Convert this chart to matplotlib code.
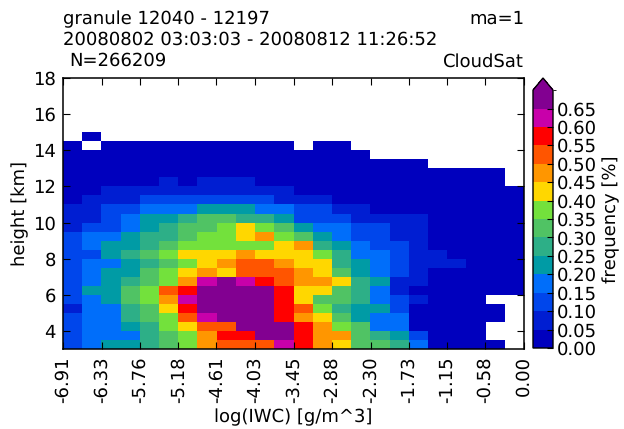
import numpy as np
import matplotlib
matplotlib.use("Agg")
import matplotlib.pyplot as plt
from matplotlib.colors import BoundaryNorm, ListedColormap

plt.rcParams["text.hinting"] = "no_hinting"
plt.rcParams["text.hinting_factor"] = 1

N = None

# x tick labels, log(IWC)
x_labels = ["-6.91", "-6.33", "-5.76", "-5.18", "-4.61", "-4.03", "-3.45",
            "-2.88", "-2.30", "-1.73", "-1.15", "-0.58", "0.00"]
y_ticks = [4, 6, 8, 10, 12, 14, 16, 18]
cbar_ticks = [0.00, 0.05, 0.10, 0.15, 0.20, 0.25, 0.30, 0.35, 0.40, 0.45, 0.50, 0.55, 0.60, 0.65]
levels = [0.00, 0.05, 0.10, 0.15, 0.20, 0.25, 0.30, 0.35, 0.40, 0.45, 0.50, 0.55, 0.60, 0.65, 0.70]
colors = ["#0000be", "#001ed2", "#0046eb", "#006efa", "#009ba5", "#2daf87",
          "#50c364", "#73e13c", "#ffd700", "#ff9600", "#ff5500", "#ff0000",
          "#c800aa", "#820091"]

# frequency in hundredths of a percent, one row per height bin, bottom row first
freq = [
    [12, 17, 22, 22, 27, 32, 37, 47, 52, 52, 52, 62, 57, 47, 42, 32, 32, 27, 17, 2, 2, 2, 2, N],
    [12, 17, 17, 17, 27, 32, 37, 47, 57, 57, 67, 67, 57, 47, 47, 32, 27, 22, 12, 2, 2, 2, N, N],
    [12, 17, 17, 22, 27, 37, 42, 52, 52, 67, 67, 67, 57, 47, 37, 32, 17, 17, 2, 2, 2, 2, N, N],
    [12, 17, 17, 27, 32, 37, 52, 62, 67, 67, 67, 57, 47, 42, 32, 22, 17, 17, 2, 2, 2, 2, 2, N],
    [7, 17, 17, 27, 32, 42, 57, 67, 67, 67, 67, 57, 52, 37, 27, 22, 22, 12, 2, 2, 2, 2, 2, N],
    [12, 17, 22, 32, 37, 47, 62, 67, 67, 67, 67, 57, 42, 32, 32, 27, 17, 12, 7, 2, 2, 2, N, N],
    [12, 22, 22, 32, 37, 52, 57, 67, 67, 67, 67, 57, 42, 42, 32, 27, 17, 7, 2, 2, 2, 2, 2, 2],
    [12, 17, 22, 27, 32, 37, 47, 62, 67, 62, 57, 52, 47, 47, 42, 27, 22, 7, 7, 2, 2, 2, 2, 2],
    [12, 17, 22, 22, 32, 37, 42, 47, 42, 52, 52, 52, 47, 42, 32, 22, 17, 12, 7, 2, 2, 2, 2, 2],
    [12, 17, 17, 22, 27, 32, 37, 42, 47, 52, 52, 47, 42, 42, 27, 22, 17, 12, 7, 7, 7, 2, 2, 2],
    [12, 12, 22, 27, 32, 37, 42, 42, 42, 47, 42, 42, 42, 37, 27, 17, 17, 12, 7, 7, 2, 2, 2, 2],
    [12, 17, 22, 22, 27, 32, 37, 37, 37, 37, 37, 42, 47, 27, 22, 17, 12, 12, 7, 2, 2, 2, 2, 2],
    [12, 17, 17, 22, 27, 27, 32, 37, 37, 42, 47, 37, 32, 22, 17, 12, 12, 7, 7, 2, 2, 2, 2, 2],
    [7, 12, 12, 17, 22, 27, 32, 32, 37, 42, 37, 32, 22, 17, 17, 12, 12, 7, 7, 2, 2, 2, 2, 2],
    [7, 7, 12, 17, 22, 22, 27, 32, 32, 27, 27, 22, 12, 12, 12, 7, 7, 7, 7, 2, 2, 2, 2, 2],
    [7, 7, 12, 12, 17, 17, 17, 22, 22, 22, 17, 17, 12, 12, 7, 7, 2, 2, 2, 2, 2, 2, 2, 2],
    [2, 7, 7, 7, 12, 12, 12, 12, 12, 12, 12, 7, 7, 7, 2, 2, 2, 2, 2, 2, 2, 2, 2, 2],
    [2, 2, 7, 7, 7, 7, 7, 7, 7, 7, 7, 7, 2, 2, 2, 2, 2, 2, 2, 2, 2, 2, 2, 2],
    [2, 2, 2, 2, 2, 7, 2, 7, 7, 7, 2, 2, 2, 2, 2, 2, 2, 2, 2, 2, 2, 2, 2, N],
    [2, 2, 2, 2, 2, 2, 2, 2, 2, 2, 2, 2, 2, 2, 2, 2, 2, 2, 2, 2, 2, 2, 2, N],
    [2, 2, 2, 2, 2, 2, 2, 2, 2, 2, 2, 2, 2, 2, 2, 2, 2, 2, 2, N, N, N, N, N],
    [2, 2, 2, 2, 2, 2, 2, 2, 2, 2, 2, 2, 2, 2, 2, 2, N, N, N, N, N, N, N, N],
    [2, N, 2, 2, 2, 2, 2, 2, 2, 2, 2, 2, N, 2, 2, N, N, N, N, N, N, N, N, N],
    [N, 2, N, N, N, N, N, N, N, N, N, N, N, N, N, N, N, N, N, N, N, N, N, N],
]

W, H = 624, 429
FONT = 13.25

z = np.ma.masked_invalid(np.array(freq, dtype=float) / 100)
x_edges = np.linspace(-6.91, 0, z.shape[1] + 1)
y_edges = np.linspace(3, 15, z.shape[0] + 1)

cmap = ListedColormap(colors)
cmap.set_over(colors[-1])
cmap.set_bad("white")
norm = BoundaryNorm(levels, cmap.N)

fig = plt.figure(figsize=(W / 100, H / 100), dpi=100)
ax = fig.add_axes([63 / W, 1 - 349 / H, 461 / W, 271 / H])
mesh = ax.pcolormesh(x_edges, y_edges, z, cmap=cmap, norm=norm)

ax.set_xlim(-6.91, 0)
ax.set_ylim(3, 18)
ax.set_xticks([float(s) for s in x_labels])
ax.set_xticklabels(x_labels, rotation=90, fontsize=FONT)
ax.set_yticks(y_ticks)
ax.tick_params(axis="y", labelsize=FONT)
ax.tick_params(direction="in", top=True, right=True, length=5, width=0.8, pad=5)
ax.set_xlabel("log(IWC) [g/m^3]", fontsize=FONT, labelpad=4)
ax.set_ylabel("height [km]", fontsize=FONT, labelpad=3)
for spine in ax.spines.values():
    spine.set_linewidth(1.1)

# the tip of the arrow sits inside this box
cax = fig.add_axes([533 / W, 1 - 348 / H, 20 / W, 270 / H])
cbar = fig.colorbar(mesh, cax=cax, extend="max", extendfrac=0.047, ticks=cbar_ticks)
cbar.ax.tick_params(direction="in", length=4, width=0.8, labelsize=FONT, pad=3)
cbar.ax.set_yticklabels(["%.2f" % t for t in cbar_ticks])
cbar.set_label("frequency [%]", fontsize=FONT, labelpad=4)
cbar.outline.set_linewidth(1.0)

fig.text(63 / W, 1 - 19 / H, "granule 12040 - 12197", fontsize=FONT, va="center")
fig.text(63 / W, 1 - 40 / H, "20080802 03:03:03 - 20080812 11:26:52", fontsize=FONT, va="center")
fig.text(69 / W, 1 - 61 / H, "N=266209", fontsize=FONT, va="center")
fig.text(524 / W, 1 - 19 / H, "ma=1", fontsize=FONT, va="center", ha="right")
fig.text(524 / W, 1 - 62 / H, "CloudSat", fontsize=FONT, va="center", ha="right")

fig.savefig("out.png", dpi=100)
